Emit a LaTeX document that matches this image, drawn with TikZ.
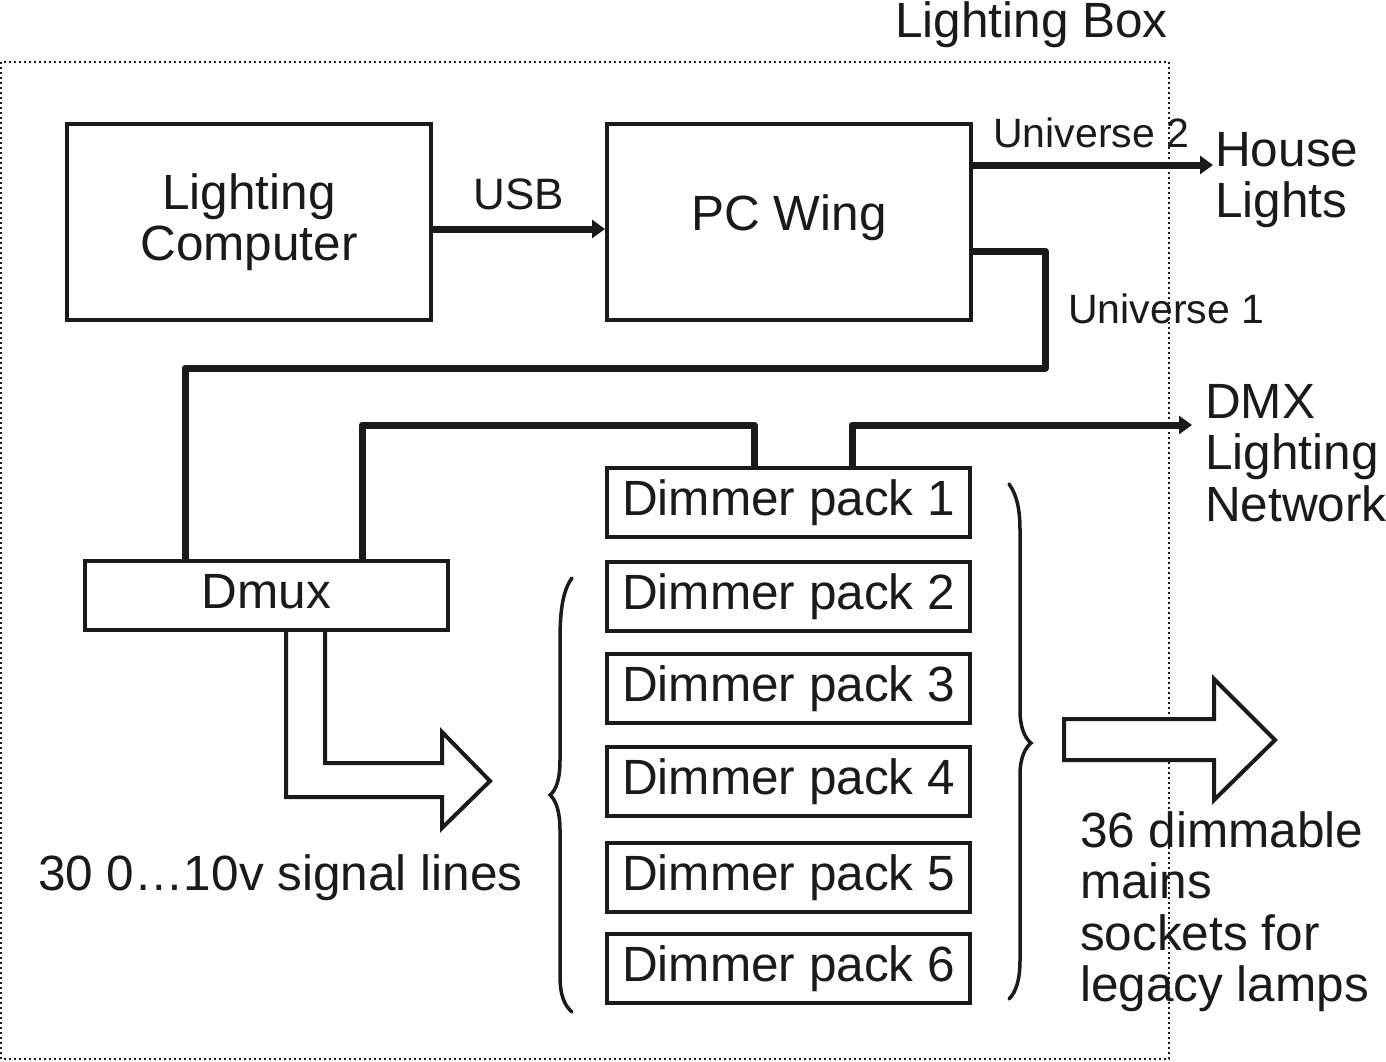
\documentclass[tikz,border=0pt]{standalone}
\usepackage{fontspec}
\setmainfont{Liberation Sans}
\usetikzlibrary{arrows.meta,calc}
\definecolor{ink}{RGB}{26,26,26}
\begin{document}
\begin{tikzpicture}[x=1pt,y=-1pt,
  every node/.style={text=ink},
  box/.style={draw=ink, line width=4pt, rectangle, inner sep=0pt},
  big/.style={font=\fontsize{49.5}{51.5}\selectfont},
  mid/.style={font=\fontsize{44}{48}\selectfont},
  small/.style={font=\fontsize{41}{45}\selectfont},
  wire/.style={draw=ink, line width=7pt, line cap=round, line join=round},
  tipped/.style={-{Triangle[length=13pt,width=18pt]}},
  hollow/.style={draw=ink, line width=4pt, line join=miter, fill=white},
  brace/.style={draw=ink, line width=3.5pt, line cap=round},
  pack/.style={box, big, minimum width=363pt, minimum height=69pt, text height=36pt, text depth=10pt},
]
\fill[white] (0,0) rectangle (1386,1061);
\useasboundingbox (0,0) rectangle (1386,1061);

% Lighting box frame
\draw[ink, line width=2pt, dash pattern=on 2pt off 3pt] (1,62) rectangle (1169,1059);
\node[big, anchor=base east, inner sep=0pt] (boxlabel) at (1168,37) {Lighting Box};

% main boxes
\node[box, big, minimum width=364pt, minimum height=196pt, align=center] (lc) at (249,222) {Lighting\\Computer};
\node[box, big, minimum width=364pt, minimum height=196pt, text height=36pt, text depth=20pt] (pcw) at (789,222) {PC Wing};
\node[box, big, minimum width=363pt, minimum height=69pt, text height=36pt, text depth=10pt] (dmux) at (266.5,595.5) {Dmux};

% dimmer packs
\node[pack] (dp1) at (788.5,502.5) {Dimmer pack 1};
\node[pack] (dp2) at (788.5,596) {Dimmer pack 2};
\node[pack] (dp3) at (788.5,688.5) {Dimmer pack 3};
\node[pack] (dp4) at (788.5,781) {Dimmer pack 4};
\node[pack] (dp5) at (788.5,877.5) {Dimmer pack 5};
\node[pack] (dp6) at (788.5,968) {Dimmer pack 6};

% labels
\node[mid, anchor=base, inner sep=0pt] (usb) at (519,209) {USB};
\node[small, anchor=base west, inner sep=0pt] (u2lab) at (993,147) {Universe 2};
\node[small, anchor=base west, inner sep=0pt] (u1lab) at (1068,323) {Universe 1};
\node[big, align=left, anchor=north west, inner sep=0pt] (house) at (1215,132) {House\\Lights};
\node[big, align=left, anchor=north west, inner sep=0pt] (dmx) at (1205,384) {DMX\\Lighting\\Network};
\node[big, align=left, anchor=north west, inner sep=0pt] (mains) at (1080,811) {36 dimmable\\mains\\sockets for\\legacy lamps};
\node[big, anchor=base west, inner sep=0pt] (sig) at (38,890) {30 0…10v signal lines};

% coordinates
\coordinate (u2end) at (1213,165);
\coordinate (u1r) at (1045,368);
\coordinate (u1l) at (185,368);
\coordinate (dl) at (362,425);
\coordinate (dm) at (754,425);
\coordinate (dn) at (852,425);
\coordinate (dmxend) at (1192,425);

% connectors
\draw[wire, tipped] ([yshift=-7pt]lc.east) -- ([yshift=-7pt]pcw.west);
\draw[wire, tipped] ([yshift=57pt]pcw.east) -- (u2end);
\draw[wire] ([yshift=-29pt]pcw.east) -| (u1r) -- (u1l) -- (u1l |- dmux.north);
\draw[wire] (dl |- dmux.north) -- (dl) -- (dm) -- (dm |- dp1.north);
\draw[wire, tipped] (dn |- dp1.north) -- (dn) -- (dmxend);

% hollow arrow from Dmux
\coordinate (ha1) at (286,797);
\coordinate (ha2) at (325,763);
\draw[hollow, fill=none] (ha1 |- dmux.south) -- (ha1) -- (442,797) -- (442,828) -- (490,781) -- (442,732) -- (442,763) -- (ha2) -- (ha2 |- dmux.south);

% hollow arrow to the right
\draw[hollow] (1064,719) -- (1214,719) -- (1214,679) -- (1275,740) -- (1214,800) -- (1214,760) -- (1064,760) -- cycle;

% braces
\draw[brace] (572,578) .. controls (563,590) and (560,610) .. (560,640) -- (560,760)
  .. controls (560,780) and (556,790) .. (550,795)
  .. controls (556,800) and (560,812) .. (560,830) -- (560,975)
  .. controls (560,995) and (564,1005) .. (572,1012);
\draw[brace] (1009,484) .. controls (1017,495) and (1020,510) .. (1020,530) -- (1020,710)
  .. controls (1020,728) and (1025,738) .. (1031,743)
  .. controls (1025,748) and (1020,758) .. (1020,775) -- (1020,960)
  .. controls (1020,980) and (1016,992) .. (1009,999);
\end{tikzpicture}
\end{document}
